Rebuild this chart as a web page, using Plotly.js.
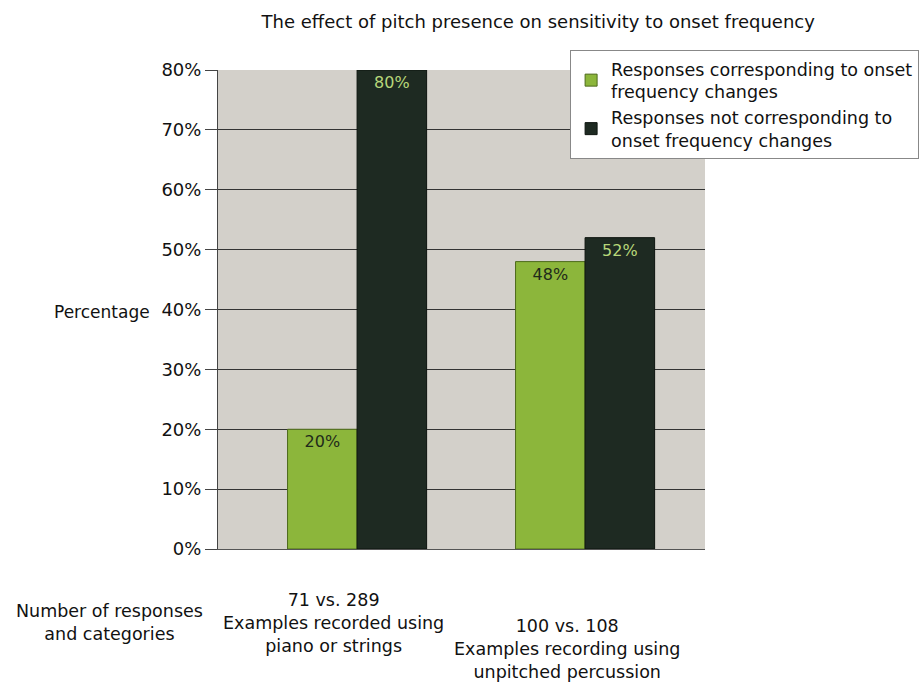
<!DOCTYPE html>
<html><head><meta charset="utf-8">
<script src="https://cdn.plot.ly/plotly-3.0.1.min.js"></script>
<style>body{margin:0;background:#fff}#c{width:920px;height:687px}</style>
</head><body><div id="c"></div>
<script>
const categories = ["Piano or strings", "Unpitched percussion"];
const categoryLabels = [
  "71 vs. 289<br>Examples recorded using<br>piano or strings",
  "100 vs. 108<br>Examples recording using<br>unpitched percussion"
];
const seriesNames = [
  "Responses corresponding to onset<br>frequency changes",
  "Responses not corresponding to<br>onset frequency changes"
];
const corresponding = [0.20, 0.48];
const notCorresponding = [0.80, 0.52];
const yTicks = [0, 0.1, 0.2, 0.3, 0.4, 0.5, 0.6, 0.7, 0.8];

const fontFam = "DejaVu Sans, Verdana, sans-serif";
const traces = [
  {type:'bar', x:categories, y:corresponding, name:seriesNames[0],
   marker:{color:'#8cb63b', line:{color:'#4d6a1c', width:1}},
   text:corresponding.map(v=>Math.round(v*100)+'%'), textposition:'inside', insidetextanchor:'end',
   textfont:{color:'#1f2a1a', size:16, family:fontFam}, hoverinfo:'y'},
  {type:'bar', x:categories, y:notCorresponding, name:seriesNames[1],
   marker:{color:'#1e2a22', line:{color:'#0d140f', width:1}},
   text:notCorresponding.map(v=>Math.round(v*100)+'%'), textposition:'inside', insidetextanchor:'end',
   textfont:{color:'#b7d77a', size:16, family:fontFam}, hoverinfo:'y'}
];
const labelStyle = [
  {xshift:-24, y:-0.081},
  {xshift:-18, y:-0.136}
];
const annotations = categories.map((c,i)=>({
  text:categoryLabels[i], xref:'x', yref:'paper', x:c, y:labelStyle[i].y, xshift:labelStyle[i].xshift,
  showarrow:false, xanchor:'center', yanchor:'top', align:'center',
  font:{size:17.5, family:fontFam, color:'#111'}
}));
annotations.push(
  {text:'Percentage', xref:'paper', yref:'paper', x:-0.238, y:0.495, showarrow:false, xanchor:'center',
   font:{size:17, family:fontFam, color:'#111'}},
  {text:'Number of responses<br>and categories', xref:'paper', yref:'paper', x:-0.222, y:-0.105, showarrow:false,
   xanchor:'center', yanchor:'top', font:{size:17.5, family:fontFam, color:'#111'}}
);
const layout = {
  width:920, height:687,
  margin:{l:218, r:215, t:70, b:138, autoexpand:false},
  paper_bgcolor:'#ffffff', plot_bgcolor:'#d3d0ca',
  barmode:'group', bargap:0.39, bargroupgap:0,
  font:{family:fontFam, size:17, color:'#111'},
  title:{text:'The effect of pitch presence on sensitivity to onset frequency',
         font:{size:18, family:fontFam, color:'#111'}, xref:'container', x:0.585, xanchor:'center', y:0.968, yanchor:'middle'},
  xaxis:{type:'category', range:[-0.61, 1.526], showgrid:false, showline:true, linecolor:'#555',
         ticks:'', showticklabels:false, fixedrange:true},
  yaxis:{range:[0,0.8], tickvals:yTicks, tickformat:'.0%', showgrid:true, gridcolor:'#333', gridwidth:1,
         showline:true, linecolor:'#444', ticks:'outside', ticklen:12, tickcolor:'#444',
         tickfont:{size:18, family:fontFam, color:'#111'}, zeroline:false, fixedrange:true},
  showlegend:true,
  legend:{x:0.723, xanchor:'left', y:1.042, yanchor:'top', bgcolor:'#ffffff', bordercolor:'#888', borderwidth:1,
          font:{size:17.5, family:fontFam, color:'#111'}, tracegroupgap:10, itemwidth:30},
  annotations:annotations
};
Plotly.newPlot('c', traces, layout, {displayModeBar:false, staticPlot:true});
</script></body></html>
